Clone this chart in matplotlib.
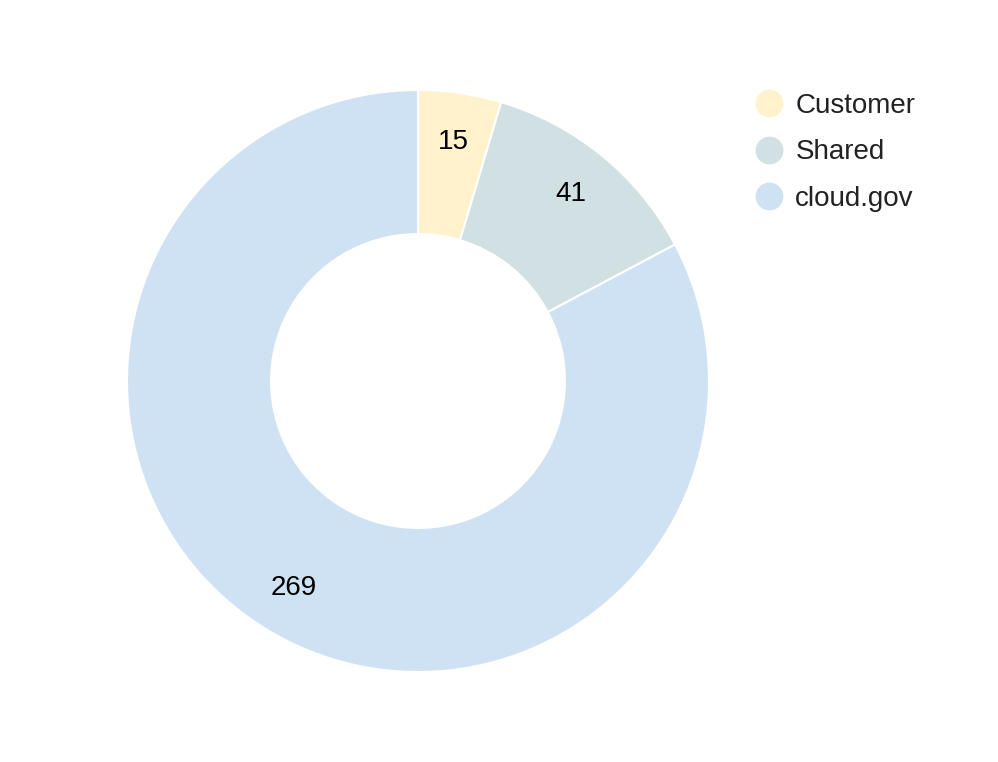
import matplotlib.pyplot as plt
from matplotlib.lines import Line2D

# responsibility split
labels = ['Customer', 'Shared', 'cloud.gov']
counts = [15, 41, 269]
colors = ['#fff2cc', '#d0e0e3', '#cfe2f3']

plt.rcParams['font.family'] = ['Liberation Sans', 'DejaVu Sans']

fig = plt.figure(figsize=(9.98, 7.62), dpi=100)
# pie centre at (418, 381) px, outer radius 291 px
ax = fig.add_axes([127 / 998, 90 / 762, 582 / 998, 582 / 762])

wedges, texts = ax.pie(counts, colors=colors, startangle=90, counterclock=False,
                       labels=[str(c) for c in counts], labeldistance=0.83,
                       radius=1, wedgeprops=dict(width=0.495, edgecolor='white', linewidth=1.5),
                       textprops=dict(fontsize=20, color='black', ha='center', va='center'))
ax.set_xlim(-1, 1)
ax.set_ylim(-1, 1)
ax.set_aspect('equal')
ax.axis('off')

handles = [Line2D([], [], marker='o', linestyle='', markersize=19,
                  markerfacecolor=c, markeredgecolor=c) for c in colors]
leg = fig.legend(handles, labels, loc='upper left', bbox_to_anchor=(752 / 998, 1 - 93 / 762),
                 frameon=False, fontsize=20, handletextpad=0.36, labelspacing=0.73,
                 borderaxespad=0, borderpad=0, handlelength=1.2)
for t in leg.get_texts():
    t.set_color('#222222')

fig.savefig('out.png', dpi=100)
